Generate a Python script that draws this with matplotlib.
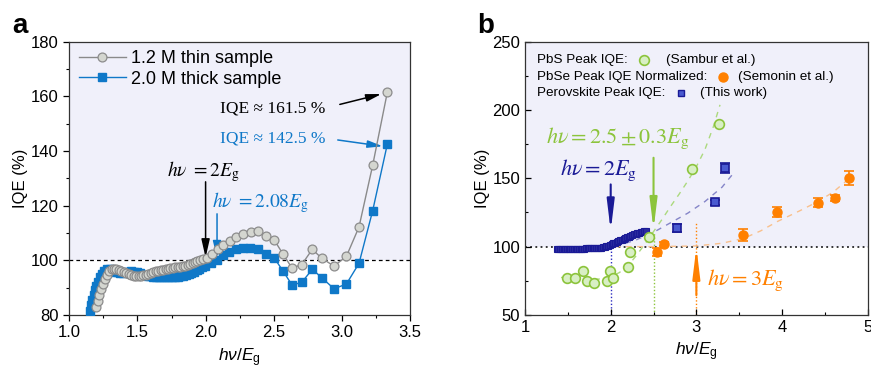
import matplotlib
matplotlib.use("Agg")
import matplotlib.pyplot as plt
import numpy as np

plt.rcParams['font.family'] = ['Liberation Sans', 'DejaVu Sans']
plt.rcParams['mathtext.fontset'] = 'custom'
plt.rcParams['mathtext.rm'] = 'Liberation Sans'
plt.rcParams['mathtext.it'] = 'Liberation Sans:italic'

# ---------------- Panel a data ----------------
thin_x = [1.193, 1.208, 1.220, 1.235, 1.250, 1.264, 1.279, 1.294, 1.311, 1.328,
          1.346, 1.364, 1.382, 1.400, 1.418, 1.436, 1.454, 1.472, 1.490, 1.508,
          1.526, 1.544, 1.562, 1.580, 1.598, 1.616, 1.634, 1.652, 1.670, 1.688,
          1.706, 1.724, 1.742, 1.760, 1.778, 1.796, 1.814, 1.832, 1.850, 1.868,
          1.886, 1.904, 1.922, 1.940, 1.958, 1.978, 2.010, 2.047, 2.088, 2.129,
          2.176, 2.225, 2.277, 2.331, 2.382, 2.443, 2.504, 2.568, 2.634, 2.705,
          2.783, 2.854, 2.942, 3.033, 3.126, 3.226, 3.334]
thin_y = [82.8, 85.1, 87.3, 89.4, 91.4, 93.3, 94.7, 96.0, 96.8, 97.0,
          96.8, 96.5, 96.2, 95.8, 95.5, 95.1, 94.7, 94.4, 94.2, 94.1,
          94.2, 94.5, 94.8, 95.1, 95.4, 95.7, 96.0, 96.2, 96.4, 96.6,
          96.8, 97.0, 97.1, 97.3, 97.5, 97.6, 97.7, 97.9, 98.1, 98.4,
          98.7, 99.0, 99.3, 99.6, 100.0, 100.4, 101.0, 102.4, 104.0, 105.6,
          107.2, 108.5, 109.7, 110.3, 110.7, 109.0, 107.4, 102.3, 97.2, 98.4,
          104.0, 100.7, 97.9, 101.4, 112.2, 134.7, 161.5]

thick_x = [1.150, 1.159, 1.169, 1.179, 1.188, 1.198, 1.213, 1.227, 1.242, 1.257,
           1.276, 1.296, 1.315, 1.335, 1.355, 1.375, 1.395, 1.415, 1.435, 1.455,
           1.475, 1.495, 1.515, 1.535, 1.555, 1.575, 1.595, 1.615, 1.635, 1.655,
           1.675, 1.695, 1.715, 1.735, 1.755, 1.775, 1.795, 1.815, 1.835, 1.855,
           1.875, 1.895, 1.915, 1.935, 1.955, 1.975, 1.995, 2.037, 2.086, 2.130,
           2.174, 2.223, 2.272, 2.326, 2.382, 2.441, 2.502, 2.568, 2.634, 2.705,
           2.783, 2.854, 2.942, 3.033, 3.126, 3.226, 3.334]
thick_y = [81.6, 83.5, 85.5, 87.3, 89.1, 90.6, 92.2, 93.8, 95.0, 96.0,
           96.7, 96.9, 96.3, 95.9, 95.6, 95.5, 95.5, 95.6, 95.8, 96.0,
           95.9, 95.6, 95.2, 94.8, 94.5, 94.3, 94.1, 94.0, 93.9, 93.8,
           93.8, 93.8, 93.8, 93.8, 93.8, 93.9, 94.0, 94.1, 94.3, 94.6,
           94.9, 95.3, 95.8, 96.3, 96.8, 97.4, 97.9, 98.9, 100.1, 101.9,
           103.1, 104.0, 104.5, 104.5, 104.0, 102.3, 101.0, 96.1, 91.0, 91.9,
           96.7, 93.6, 89.6, 91.3, 98.9, 118.1, 142.5]

# ---------------- Panel b data ----------------
pbs_x = [1.486, 1.580, 1.681, 1.728, 1.802, 1.955, 1.995, 2.025, 2.206, 2.226, 2.442, 2.949, 3.261]
pbs_y = [77.2, 76.9, 82.0, 75.0, 73.2, 75.0, 81.9, 77.4, 84.8, 95.9, 107.0, 156.8, 189.8]
pbs_fit_x = [1.42, 1.60, 1.80, 1.90, 2.00, 2.10, 2.20, 2.30, 2.40, 2.50, 2.60, 2.70, 2.80, 2.90, 3.00, 3.10, 3.20, 3.276]
pbs_fit_y = [77.5, 76.5, 76.0, 76.5, 78.0, 81.0, 86.0, 93.5, 102.0, 111.0, 120.0, 129.5, 138.5, 148.0, 158.5, 171.0, 188.0, 203.7]

pbse_x = [2.545, 2.626, 3.549, 3.947, 4.416, 4.614, 4.786]
pbse_y = [95.9, 101.8, 108.3, 125.3, 132.2, 135.4, 150.2]
pbse_err = [3.0, 1.5, 4.5, 3.9, 3.5, 2.0, 4.8]
pbse_fit_x = [2.05, 2.50, 3.00, 3.30, 3.55, 3.75, 3.95, 4.20, 4.42, 4.60, 4.81]
pbse_fit_y = [100.0, 100.0, 100.5, 102.5, 106.0, 111.5, 118.5, 126.0, 133.0, 140.0, 151.2]

perov_band_x = [1.37, 1.39, 1.41, 1.43, 1.45, 1.47, 1.49, 1.51, 1.53, 1.55,
                1.57, 1.59, 1.61, 1.63, 1.65, 1.67, 1.69, 1.71, 1.73, 1.75,
                1.77, 1.79, 1.81, 1.83, 1.85, 1.87, 1.89, 1.91, 1.93, 1.95,
                1.97, 1.99, 2.01, 2.03, 2.05, 2.07, 2.09, 2.11, 2.13, 2.15,
                2.17, 2.19, 2.21, 2.23, 2.25, 2.27, 2.29, 2.31, 2.33, 2.35,
                2.37, 2.39, 2.41]
perov_band_y = [98.3, 98.4, 98.4, 98.5, 98.4, 98.3, 98.3, 98.4, 98.4, 98.5,
                98.5, 98.4, 98.5, 98.6, 98.6, 98.5, 98.6, 98.7, 98.7, 98.7,
                98.8, 98.8, 98.9, 98.9, 99.0, 99.1, 99.3, 99.5, 99.8, 100.2,
                100.6, 101.1, 101.7, 102.3, 102.9, 103.5, 104.0, 104.6, 105.2, 105.8,
                106.3, 106.9, 107.4, 107.9, 108.4, 108.9, 109.3, 109.8, 110.2, 110.6,
                110.9, 111.2, 111.4]
perov_x = [2.778, 3.220, 3.335]
perov_y = [113.6, 132.4, 157.5]
perov_err = [2.8, 2.0, 3.8]
perov_fit_x = [2.05, 2.30, 2.50, 2.70, 2.90, 3.10, 3.30, 3.45]
perov_fit_y = [100.0, 105.0, 110.5, 117.5, 124.5, 133.0, 143.5, 155.0]

# ---------------- Figure ----------------
fig = plt.figure(figsize=(8.71, 3.70), dpi=100)
ax1 = fig.add_axes([0.0796, 0.1486, 0.3911, 0.7392])
ax2 = fig.add_axes([0.6028, 0.1486, 0.3934, 0.7392])

shade = '#f0f0fa'
gray_face = '#d4d6d0'
gray_edge = '#8c8c8c'
blue = '#0f78c8'

# Panel a
ax1.set_xlim(1.0, 3.5)
ax1.set_ylim(80, 180)
ax1.axhspan(100, 180, color=shade, zorder=0, lw=0)
ax1.axhline(100, color='black', ls=(0, (3, 2.5)), lw=0.9, zorder=1)
ax1.plot(thick_x, thick_y, '-s', color=blue, mfc=blue, mec=blue, ms=5.2, lw=1.0,
         label='2.0 M thick sample', zorder=3)
ax1.plot(thin_x, thin_y, '-o', color='#8a8a8a', mfc=gray_face, mec=gray_edge, ms=6.4,
         mew=0.9, lw=1.0, label='1.2 M thin sample', zorder=4)
h, l = ax1.get_legend_handles_labels()
ax1.legend([h[1], h[0]], [l[1], l[0]], loc='upper left', frameon=False, fontsize=13,
           handlelength=2.6, handletextpad=0.3, borderaxespad=0.3, labelspacing=0.2,
           bbox_to_anchor=(-0.01, 1.015))
ax1.set_xticks([1.0, 1.5, 2.0, 2.5, 3.0, 3.5])
ax1.set_xticks(np.arange(1.25, 3.5, 0.5), minor=True)
ax1.set_yticks([80, 100, 120, 140, 160, 180])
ax1.set_yticks(np.arange(90, 180, 20), minor=True)
ax1.tick_params(axis='both', which='major', labelsize=12, direction='out', length=4, width=0.9)
ax1.tick_params(axis='both', which='minor', direction='out', length=2.5, width=0.8)
ax1.set_ylabel('IQE (%)', fontsize=12, labelpad=2)
ax1.set_xlabel(r'$h\nu/E_\mathrm{g}$', fontsize=12.5, labelpad=4)
for s in ax1.spines.values():
    s.set_linewidth(0.9)
    s.set_color('#333333')

serif = ['Liberation Serif', 'DejaVu Serif']
ax1.text(2.105, 155.6, 'IQE ≈ 161.5 %', family=serif, fontsize=12.5, color='black', va='center')
ax1.text(2.105, 144.6, 'IQE ≈ 142.5 %', family=serif, fontsize=12.5, color=blue, va='center')
ax1.annotate('', xy=(3.29, 160.8), xytext=(2.985, 157.0),
             arrowprops=dict(arrowstyle='-|>,head_length=0.9,head_width=0.22', color='black', lw=1.1,
                             shrinkA=0, shrinkB=0))
ax1.annotate('', xy=(3.30, 141.7), xytext=(2.97, 144.0),
             arrowprops=dict(arrowstyle='-|>,head_length=0.9,head_width=0.22', color=blue, lw=1.1,
                             shrinkA=0, shrinkB=0))
ax1.text(1.714, 132.4, r'$h\nu\ = 2E_\mathrm{g}$', fontsize=14, color='black', va='center',
         math_fontfamily='stix')
ax1.text(2.044, 121.3, r'$h\nu\ = 2.08E_\mathrm{g}$', fontsize=14, color=blue, va='center',
         math_fontfamily='stix')
ax1.annotate('', xy=(2.0, 101.0), xytext=(2.0, 128.7),
             arrowprops=dict(arrowstyle='-|>,head_length=1.1,head_width=0.25', color='black', lw=1.1,
                             shrinkA=0, shrinkB=0))
ax1.annotate('', xy=(2.084, 101.0), xytext=(2.084, 117.0),
             arrowprops=dict(arrowstyle='-|>,head_length=1.0,head_width=0.25', color=blue, lw=1.1,
                             shrinkA=0, shrinkB=0))
fig.text(0.014, 0.91, 'a', fontsize=20, fontweight='bold')

# Panel b
green = '#8cc43c'
green_face = '#d8efc4'
orange = '#ff8000'
navy = '#1a1a96'
ax2.set_xlim(1, 5)
ax2.set_ylim(50, 250)
ax2.axhspan(100, 250, color=shade, zorder=0, lw=0)
ax2.axhline(100, color='black', ls=(0, (1.2, 2.2)), lw=1.1, zorder=1)
ax2.plot([2, 2], [50, 103], color='#2a2ac0', ls=(0, (1, 1.5)), lw=1.0, zorder=1)
ax2.plot([2.5, 2.5], [50, 111], color=green, ls=(0, (1, 1.5)), lw=1.0, zorder=1)
ax2.plot([3.0, 3.0], [50, 117.5], color=orange, ls=(0, (1, 1.5)), lw=1.0, zorder=1)

ax2.plot(pbs_fit_x, pbs_fit_y, color='#acd97e', ls=(0, (4, 4)), lw=1.0, zorder=2)
ax2.plot(pbse_fit_x, pbse_fit_y, color='#f9c08c', ls=(0, (4, 4)), lw=1.0, zorder=2)
ax2.plot(perov_fit_x, perov_fit_y, color='#8585c8', ls=(0, (4, 4)), lw=1.0, zorder=2)

ax2.plot(pbs_x, pbs_y, 'o', mfc=green_face, mec=green, ms=7, mew=1.2, zorder=4)
ax2.plot(perov_band_x, perov_band_y, 's', mfc='#2b2ba0', mec=navy, ms=4.8, mew=0.8, zorder=3)
ax2.errorbar(pbse_x, pbse_y, yerr=pbse_err, fmt='o', color=orange, ms=6.5, capsize=3.5,
             elinewidth=1.2, capthick=1.2, zorder=4)
ax2.errorbar(perov_x, perov_y, yerr=perov_err, fmt='s', mfc='#4a5ad0', mec=navy, ecolor=navy,
             ms=5.5, mew=1.2, capsize=3.5, elinewidth=1.2, capthick=1.2, zorder=4)

ax2.set_xticks([1, 2, 3, 4, 5])
ax2.set_xticks(np.arange(1.5, 5, 1.0), minor=True)
ax2.set_yticks([50, 100, 150, 200, 250])
ax2.set_yticks(np.arange(75, 250, 50), minor=True)
ax2.tick_params(axis='both', which='major', labelsize=12, direction='in', length=4, width=0.9)
ax2.tick_params(axis='both', which='minor', direction='in', length=2.5, width=0.8)
ax2.set_ylabel('IQE (%)', fontsize=12, labelpad=2)
ax2.set_xlabel(r'$h\nu/E_\mathrm{g}$', fontsize=12.5, labelpad=4)
for s in ax2.spines.values():
    s.set_linewidth(0.9)
    s.set_color('#333333')

lf = 9.7
ax2.text(1.144, 236.3, 'PbS Peak IQE:', fontsize=lf, va='center')
ax2.plot([2.389], [236.3], 'o', mfc=green_face, mec=green, ms=7, mew=1.2)
ax2.text(2.645, 236.3, '(Sambur et al.)', fontsize=lf, va='center')
ax2.text(1.144, 224.3, 'PbSe Peak IQE Normalized:', fontsize=lf, va='center')
ax2.plot([3.307], [224.3], 'o', color=orange, ms=6.5)
ax2.text(3.489, 224.3, '(Semonin et al.)', fontsize=lf, va='center')
ax2.text(1.144, 212.2, 'Perovskite Peak IQE:', fontsize=lf, va='center')
ax2.plot([2.817], [212.2], 's', mfc='#4a5ad0', mec=navy, ms=5, mew=1.0)
ax2.text(3.042, 212.2, '(This work)', fontsize=lf, va='center')

ax2.text(1.25, 179.5, r'$h\nu = 2.5 \pm 0.3E_\mathrm{g}$', fontsize=16, color=green, va='center',
         math_fontfamily='stix')
ax2.text(1.41, 156.0, r'$h\nu = 2E_\mathrm{g}$', fontsize=16, color=navy, va='center',
         math_fontfamily='stix')
ax2.text(3.12, 75.6, r'$h\nu = 3E_\mathrm{g}$', fontsize=16, color=orange, va='center',
         math_fontfamily='stix')
ax2.annotate('', xy=(2.5, 112.5), xytext=(2.5, 165.0),
             arrowprops=dict(arrowstyle='-|>,head_length=1.8,head_width=0.22', color=green, lw=1.5,
                             shrinkA=0, shrinkB=0))
ax2.annotate('', xy=(2.0, 111.5), xytext=(2.0, 145.5),
             arrowprops=dict(arrowstyle='-|>,head_length=1.8,head_width=0.22', color=navy, lw=1.5,
                             shrinkA=0, shrinkB=0))
ax2.annotate('', xy=(3.0, 99.5), xytext=(3.0, 64.5),
             arrowprops=dict(arrowstyle='-|>,head_length=1.8,head_width=0.22', color=orange, lw=1.5,
                             shrinkA=0, shrinkB=0))
fig.text(0.548, 0.91, 'b', fontsize=20, fontweight='bold')

fig.savefig('out.png', dpi=100)
